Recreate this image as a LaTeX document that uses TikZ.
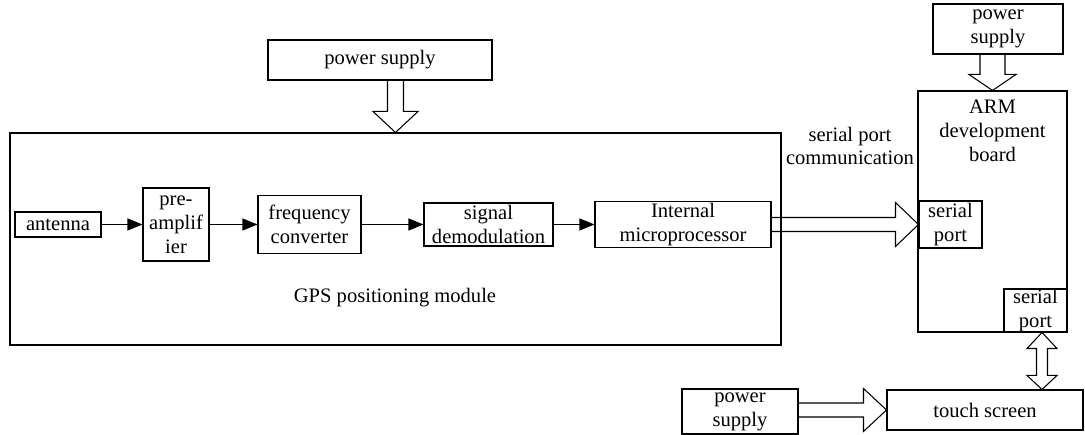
\documentclass[tikz,border=0pt]{standalone}
\usepackage{fontspec}
\setmainfont{Liberation Serif}
\usetikzlibrary{arrows.meta,calc,positioning}

\begin{document}
\begin{tikzpicture}[
  font=\fontsize{11.7}{13.6}\selectfont,
  box/.style={draw=black,line width=0.6pt,inner sep=0pt,align=center},
  flow/.style={draw=black,line width=0.6pt,-{Triangle[length=0.3cm,width=0.24cm]}},
  hollow/.style={draw=black,line width=0.6pt,line join=miter}
]
  \useasboundingbox (0,0) rectangle (21.7,-8.7);
  \def\ry{-4.49}
  % power supply and GPS module
  \node[box,minimum width=4.48cm,minimum height=0.8cm] (psgps) at (7.6,-1.2) {power supply};
  \node[box,minimum width=15.42cm,minimum height=4.24cm] (gps) at (7.91,-4.78) {};
  \node (gpslab) at (7.9,-5.96) {GPS positioning module};
  % receiver chain
  \node[box,minimum width=1.72cm,minimum height=0.5cm] (ant) at (1.16,\ry) {antenna};
  \node[box,minimum width=1.32cm,minimum height=1.46cm] (pre) at (3.52,\ry) {pre-\\amplif\\ier};
  \node[box,minimum width=2.06cm,minimum height=1.16cm] (freq) at (6.19,\ry) {frequency\\converter};
  \node[box,minimum width=2.58cm,minimum height=0.86cm] (demod) at (9.77,\ry) {signal\\demodulation};
  \node[box,minimum width=3.52cm,minimum height=0.92cm] (micro) at (13.66,\ry) {Internal\\microprocessor};
  \draw[flow] (ant) -- (pre);
  \draw[flow] (pre) -- (freq);
  \draw[flow] (freq) -- (demod);
  \draw[flow] (demod) -- (micro);
  % ARM board
  \node[box,minimum width=2.6cm,minimum height=1.0cm] (psarm) at (19.96,-0.58) {power\\supply};
  \node[box,minimum width=2.98cm,minimum height=4.82cm] (arm) at (19.85,-4.23) {};
  \node[align=center,anchor=north,inner sep=0pt] (armlab) at ($(arm.north)+(0,-0.18)$) {ARM\\development\\board};
  \node[box,minimum width=1.26cm,minimum height=0.94cm] (spin) at (19.01,\ry) {serial\\port};
  \node[box,minimum width=1.26cm,minimum height=0.86cm] (spout) at (20.71,-6.21) {serial\\port};
  \node[align=center] (comlab) at (17.0,-2.92) {serial port\\communication};
  % touch screen
  \node[box,minimum width=3.92cm,minimum height=0.8cm] (touch) at (19.7,-8.2) {touch screen};
  \node[box,minimum width=2.32cm,minimum height=0.9cm] (pstouch) at (14.8,-8.23) {power\\supply};
  % hollow arrows
  \draw[hollow] ($(gps.north |- psgps.south)+(-0.16,0)$) -- ($(gps.north)+(-0.16,0.42)$)
    -- ($(gps.north)+(-0.45,0.42)$) -- (gps.north) -- ($(gps.north)+(0.45,0.42)$)
    -- ($(gps.north)+(0.16,0.42)$) -- ($(gps.north |- psgps.south)+(0.16,0)$);
  \draw[hollow] ($(micro.east |- spin.west)+(0,0.14)$) -- ($(spin.west)+(-0.46,0.14)$)
    -- ($(spin.west)+(-0.46,0.44)$) -- (spin.west) -- ($(spin.west)+(-0.46,-0.44)$)
    -- ($(spin.west)+(-0.46,-0.14)$) -- ($(micro.east |- spin.west)+(0,-0.14)$);
  \draw[hollow] ($(arm.north |- psarm.south)+(-0.25,0)$) -- ($(arm.north)+(-0.25,0.32)$)
    -- ($(arm.north)+(-0.47,0.32)$) -- (arm.north) -- ($(arm.north)+(0.47,0.32)$)
    -- ($(arm.north)+(0.25,0.32)$) -- ($(arm.north |- psarm.south)+(0.25,0)$);
  \coordinate (dtop) at ($(spout.south)+(0.13,0)$);
  \coordinate (dbot) at (dtop |- touch.north);
  \draw[hollow] (dtop) -- ($(dtop)+(0.3,-0.32)$) -- ($(dtop)+(0.11,-0.32)$)
    -- ($(dbot)+(0.11,0.28)$) -- ($(dbot)+(0.3,0.28)$) -- (dbot)
    -- ($(dbot)+(-0.3,0.28)$) -- ($(dbot)+(-0.11,0.28)$)
    -- ($(dtop)+(-0.11,-0.32)$) -- ($(dtop)+(-0.3,-0.32)$) -- cycle;
  \draw[hollow] ($(pstouch.east |- touch.west)+(0,0.14)$) -- ($(touch.west)+(-0.46,0.14)$)
    -- ($(touch.west)+(-0.46,0.43)$) -- (touch.west) -- ($(touch.west)+(-0.46,-0.43)$)
    -- ($(touch.west)+(-0.46,-0.14)$) -- ($(pstouch.east |- touch.west)+(0,-0.14)$);
\end{tikzpicture}
\end{document}
